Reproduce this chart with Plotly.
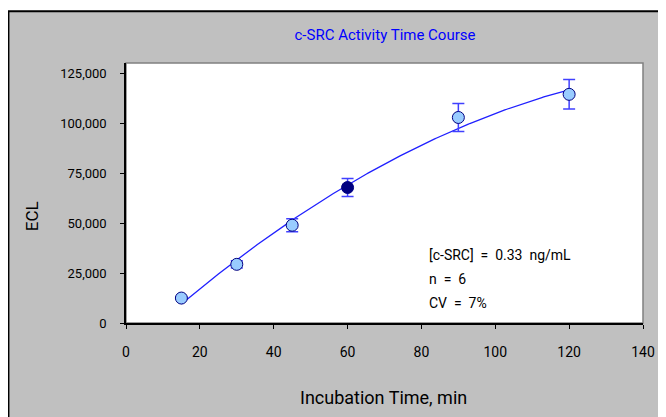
import numpy as np
import plotly.graph_objects as go

# Data
time_min = [15, 30, 45, 60, 90, 120]
ecl = [12500, 29400, 49000, 67900, 103000, 114600]
ecl_err = [600, 1800, 3300, 4500, 7000, 7400]
marker_fill = ["#99CCFF", "#99CCFF", "#99CCFF", "#000080", "#99CCFF", "#99CCFF"]
x_ticks = [0, 20, 40, 60, 80, 100, 120, 140]
y_ticks = [0, 25000, 50000, 75000, 100000, 125000]
y_tick_text = ["0", "25,000", "50,000", "75,000", "100,000", "125,000"]
notes = ["[c-SRC]  =  0.33  ng/mL", "n  =  6", "CV  =  7%"]
note_y = [33900, 21900, 9900]

FONT = "Liberation Sans Narrow, Roboto, Liberation Sans, sans-serif"

# polynomial trendline fitted to the data (as in the original chart)
coef = np.polyfit(time_min, ecl, 2)
fit_x = np.linspace(min(time_min), max(time_min), 200)
fit_y = np.polyval(coef, fit_x)

fig = go.Figure()
fig.add_trace(go.Scatter(x=fit_x, y=fit_y, mode="lines",
                         line=dict(color="#2020FF", width=1.3),
                         hoverinfo="skip", showlegend=False))
fig.add_trace(go.Scatter(
    x=time_min, y=ecl, mode="markers",
    error_y=dict(type="data", array=ecl_err, visible=True,
                 color="#4040FF", thickness=1.5, width=6),
    marker=dict(size=12, color=marker_fill,
                line=dict(color="#000080", width=1)),
    showlegend=False))

L, T, W, H = 118, 54.7, 516.7, 260.0
def px(x):
    return (x - L) / W
def py(y):
    return (T + H - y) / H

# outer frame and plot area background
fig.add_shape(type="rect", xref="paper", yref="paper",
              x0=px(0.5), x1=px(720), y0=py(440), y1=py(3),
              fillcolor="#C0C0C0", line=dict(color="black", width=2),
              layer="below")
fig.add_shape(type="rect", xref="paper", yref="paper",
              x0=0, x1=1, y0=0, y1=1,
              fillcolor="white", line=dict(color="#808080", width=1.5),
              layer="below")

for t, yv in zip(notes, note_y):
    fig.add_annotation(x=81.5, y=yv, xref="x", yref="y",
                       text=t, showarrow=False, xanchor="left", yanchor="middle",
                       font=dict(family=FONT, size=14, color="black"))

fig.add_annotation(text="Incubation Time, min", xref="paper", yref="paper",
                   x=px(375), y=py(389), showarrow=False,
                   xanchor="center", yanchor="middle",
                   font=dict(family=FONT, size=18, color="black"))
fig.add_annotation(text="ECL", xref="paper", yref="paper",
                   x=px(24), y=py(208), showarrow=False,
                   textangle=-90, xanchor="center", yanchor="middle",
                   font=dict(family=FONT, size=17, color="black"))

fig.update_layout(
    width=666, height=417,
    margin=dict(l=L, r=666 - L - W, t=T, b=417 - T - H),
    paper_bgcolor="white", plot_bgcolor="rgba(0,0,0,0)",
    title=dict(text="c-SRC Activity Time Course", x=377 / 666, xanchor="center",
               y=1 - 27 / 417, yanchor="middle",
               font=dict(family=FONT, size=15, color="#0000FF")),
    xaxis=dict(range=[0, 140], tickvals=x_ticks, showgrid=False, zeroline=False,
               showline=True, linecolor="black", linewidth=1.5,
               ticks="outside", ticklen=4, tickcolor="black",
               ticklabelstandoff=11,
               tickfont=dict(family=FONT, size=14, color="black")),
    yaxis=dict(range=[0, 130300], tickvals=y_ticks, ticktext=y_tick_text,
               showgrid=False, zeroline=False,
               showline=True, linecolor="black", linewidth=1.5,
               ticks="outside", ticklen=4, tickcolor="black",
               ticklabelstandoff=11,
               tickfont=dict(family=FONT, size=13, color="black")),
)

fig.write_html("out.html")
